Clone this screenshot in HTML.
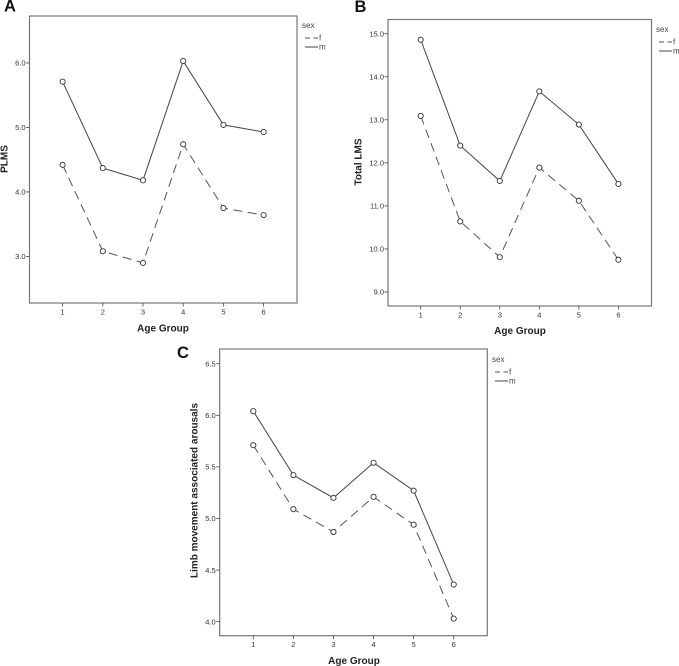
<!DOCTYPE html>
<html lang="en">
<head>
<meta charset="utf-8">
<title>Age group charts</title>
<style>
html,body{margin:0;padding:0;background:#fff;width:679px;height:666px;overflow:hidden}
svg{display:block;filter:blur(0.3px)}
text{font-family:"Liberation Sans",Arial,sans-serif;fill:#333}
.tick{font-size:7.5px}
.legend{font-size:8px;fill:#444}
.title{font-size:10px;font-weight:bold;fill:#222}
.letter{font-size:16.5px;font-weight:bold;fill:#111}
</style>
</head>
<body>
<svg id="figure" xmlns="http://www.w3.org/2000/svg" width="679" height="666" viewBox="0 0 679 666"></svg>
<script>
const categories = ["1", "2", "3", "4", "5", "6"];

const plmsMale = [5.71, 4.37, 4.18, 6.03, 5.04, 4.93];
const plmsFemale = [4.42, 3.08, 2.90, 4.74, 3.75, 3.64];
const plmsTicks = ["3.0", "4.0", "5.0", "6.0"];

const lmsMale = [14.86, 12.40, 11.58, 13.66, 12.89, 11.51];
const lmsFemale = [13.09, 10.64, 9.81, 11.89, 11.12, 9.75];
const lmsTicks = ["9.0", "10.0", "11.0", "12.0", "13.0", "14.0", "15.0"];

const arousalMale = [6.04, 5.42, 5.20, 5.54, 5.27, 4.36];
const arousalFemale = [5.71, 5.09, 4.87, 5.21, 4.94, 4.03];
const arousalTicks = ["4.0", "4.5", "5.0", "5.5", "6.0", "6.5"];

const panelA = {
  key: "a", letter: "A", letterX: 4, letterY: 11.5,
  frame: [29.5, 16, 297, 303],
  xFirst: 62.6, xLast: 263.6,
  yLow: 256.4, yHigh: 63, yTitle: "PLMS", yTitleX: 7.5, yTitleY: 159,
  xTitleX: 163, xTitleY: 331.5,
  legendX: 302, legendY: 28, legendGap: 9,
  male: plmsMale, female: plmsFemale, ticks: plmsTicks
};
const panelB = {
  key: "b", letter: "B", letterX: 354.5, letterY: 12,
  frame: [388, 19.5, 651.5, 306],
  xFirst: 420.7, xLast: 618.4,
  yLow: 292, yHigh: 33.7, yTitle: "Total LMS", yTitleX: 361.5, yTitleY: 162,
  xTitleX: 520, xTitleY: 334,
  legendX: 656, legendY: 32, legendGap: 9,
  male: lmsMale, female: lmsFemale, ticks: lmsTicks
};
const panelC = {
  key: "c", letter: "C", letterX: 177, letterY: 358,
  frame: [219.7, 349, 487.3, 635.7],
  xFirst: 253.3, xLast: 453.7,
  yLow: 621.7, yHigh: 363.7, yTitle: "Limb movement associated arousals", yTitleX: 197.5, yTitleY: 490.5,
  xTitleX: 354, xTitleY: 664,
  legendX: 492, legendY: 362, legendGap: 9,
  male: arousalMale, female: arousalFemale, ticks: arousalTicks
};

const svg = document.getElementById("figure");
const NS = "http://www.w3.org/2000/svg";

function make(parent, tag, attrs, content) {
  const node = document.createElementNS(NS, tag);
  for (const k in attrs) node.setAttribute(k, attrs[k]);
  if (content !== undefined) node.textContent = content;
  parent.appendChild(node);
  return node;
}

function drawSeries(group, p, values, xScale, yScale, dashed, seriesName) {
  const pts = values.map((v, i) => xScale(i).toFixed(2) + "," + yScale(v).toFixed(2)).join(" ");
  const line = make(group, "polyline", {
    points: pts, fill: "none", stroke: dashed ? "#555" : "#444", "stroke-width": 1,
    "stroke-dasharray": dashed ? "9 5.5" : "none"
  });
  
  
  values.forEach((v, i) => {
    const pt = make(group, "circle", {
      cx: xScale(i), cy: yScale(v), r: 2.6, fill: "#fff", stroke: "#333", "stroke-width": 0.9
    });
    
    
  });
}

function drawPanel(p) {
  const group = make(svg, "g", {});
  
  

  const [x0, y0, x1, y1] = p.frame;
  const frame = make(group, "rect", {
    x: x0, y: y0, width: x1 - x0, height: y1 - y0, fill: "#fff", stroke: "#777", "stroke-width": 1.2
  });
  
  

  const xScale = i => p.xFirst + (p.xLast - p.xFirst) * i / (categories.length - 1);
  const tickMin = parseFloat(p.ticks[0]);
  const tickMax = parseFloat(p.ticks[p.ticks.length - 1]);
  const yScale = v => p.yLow + (p.yHigh - p.yLow) * (v - tickMin) / (tickMax - tickMin);

  const letter = make(group, "text", { x: p.letterX, y: p.letterY, class: "letter" }, p.letter);
  
  

  p.ticks.forEach(t => {
    const y = yScale(parseFloat(t));
    const mark = make(group, "line", { x1: x0 - 3.5, x2: x0, y1: y, y2: y, stroke: "#444", "stroke-width": 0.8 });
    
    
    const label = make(group, "text", { x: x0 - 4, y: y + 2.7, "text-anchor": "end", class: "tick" }, t);
    
    
  });

  categories.forEach((c, i) => {
    const x = xScale(i);
    const mark = make(group, "line", { x1: x, x2: x, y1: y1, y2: y1 + 3.5, stroke: "#444", "stroke-width": 0.8 });
    
    
    const label = make(group, "text", { x: x, y: y1 + 11.5, "text-anchor": "middle", class: "tick" }, c);
    
    
  });

  const xTitle = make(group, "text", { x: p.xTitleX, y: p.xTitleY, "text-anchor": "middle", class: "title" }, "Age Group");
  
  

  const yTitle = make(group, "text", {
    x: p.yTitleX, y: p.yTitleY, "text-anchor": "middle", class: "title",
    transform: "rotate(-90 " + p.yTitleX + " " + p.yTitleY + ")"
  }, p.yTitle);
  
  

  drawSeries(group, p, p.female, xScale, yScale, true, "f");
  drawSeries(group, p, p.male, xScale, yScale, false, "m");

  const lx = p.legendX, ly = p.legendY;
  const head = make(group, "text", { x: lx, y: ly, class: "legend" }, "sex");
  
  

  const fKey = make(group, "line", {
    x1: lx + 3, x2: lx + 16, y1: ly + 10, y2: ly + 10, stroke: "#555", "stroke-width": 1, "stroke-dasharray": "5 3.5"
  });
  
  
  const fLabel = make(group, "text", { x: lx + 17, y: ly + 12.5, class: "legend" }, "f");
  
  

  const mKey = make(group, "line", {
    x1: lx + 3, x2: lx + 16, y1: ly + 10 + p.legendGap, y2: ly + 10 + p.legendGap, stroke: "#444", "stroke-width": 1
  });
  
  
  const mLabel = make(group, "text", { x: lx + 17, y: ly + 12.5 + p.legendGap, class: "legend" }, "m");
  
  
}

drawPanel(panelA);
drawPanel(panelB);
drawPanel(panelC);
</script>
</body>
</html>
